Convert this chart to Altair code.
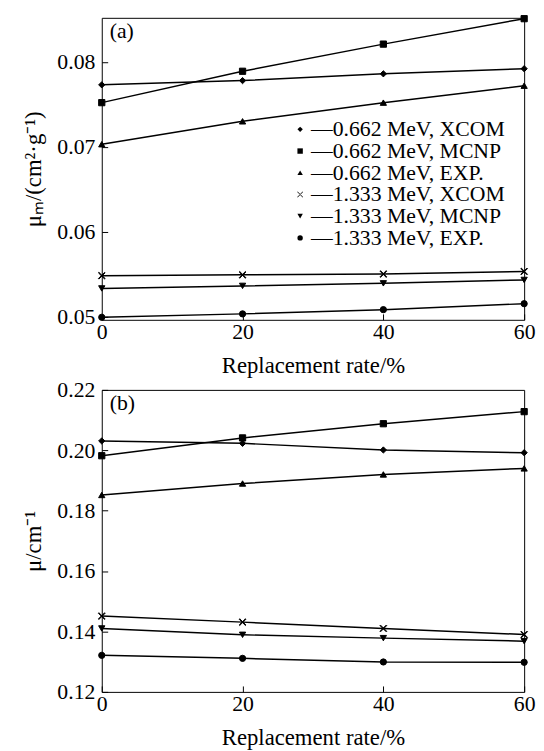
import altair as alt
import pandas as pd

rates = [0, 20, 40, 60]
series = [
    "0.662 MeV, XCOM",
    "0.662 MeV, MCNP",
    "0.662 MeV, EXP.",
    "1.333 MeV, XCOM",
    "1.333 MeV, MCNP",
    "1.333 MeV, EXP.",
]
# thin filled "x" outline so that it is drawn by fill as well as by stroke
X_PATH = ("M-1.08,-0.92L0.92,1.08L1.08,0.92L-0.92,-1.08Z"
          "M-1.08,0.92L0.92,-1.08L1.08,-0.92L-0.92,1.08Z")
shape_range = [
    "diamond",
    "square",
    "triangle-up",
    X_PATH,
    "triangle-down",
    "circle",
]

# panel (a): mass attenuation coefficient
a_xcom_662 = [0.0773, 0.0778, 0.0786, 0.0792]
a_mcnp_662 = [0.0752, 0.0789, 0.0821, 0.0851]
a_exp_662 = [0.0703, 0.0730, 0.0752, 0.0772]
a_xcom_1333 = [0.0548, 0.0549, 0.0550, 0.0553]
a_mcnp_1333 = [0.0533, 0.0536, 0.0539, 0.0543]
a_exp_1333 = [0.0499, 0.0503, 0.0508, 0.0515]

# panel (b): linear attenuation coefficient
b_xcom_662 = [0.2031, 0.2023, 0.2001, 0.1992]
b_mcnp_662 = [0.1982, 0.2041, 0.2088, 0.2128]
b_exp_662 = [0.1852, 0.1890, 0.1920, 0.1940]
b_xcom_1333 = [0.1451, 0.1431, 0.1410, 0.1390]
b_mcnp_1333 = [0.1410, 0.1389, 0.1378, 0.1368]
b_exp_1333 = [0.1321, 0.1311, 0.1299, 0.1298]

a_ticks = [0.05, 0.06, 0.07, 0.08]
b_ticks = [0.12, 0.14, 0.16, 0.18, 0.20, 0.22]
x_ticks = [0, 20, 40, 60]
tags = ["(a)", "(b)"]

FONT = "Liberation Serif"


def long_df(cols):
    rows = []
    for s, vals in zip(series, cols):
        for r, v in zip(rates, vals):
            rows.append({"rate": r, "value": v, "series": s})
    return pd.DataFrame(rows)


df_a = long_df([a_xcom_662, a_mcnp_662, a_exp_662, a_xcom_1333, a_mcnp_1333, a_exp_1333])
df_b = long_df([b_xcom_662, b_mcnp_662, b_exp_662, b_xcom_1333, b_mcnp_1333, b_exp_1333])


def panel(df, ytitle, ydomain, yticks, tag, legend_y):
    x = alt.X(
        "rate:Q",
        scale=alt.Scale(domain=[0, 60], nice=False, zero=False),
        axis=alt.Axis(values=x_ticks, title="Replacement rate/%", labelPadding=2,
                      titlePadding=12, labelFlush=False),
    )
    y = alt.Y(
        "value:Q",
        scale=alt.Scale(domain=ydomain, nice=False, zero=False),
        axis=alt.Axis(values=yticks, format=".2f", title=ytitle, labelPadding=7,
                      titlePadding=12, labelFlush=False),
    )
    lines = alt.Chart(df).mark_line(color="black", strokeWidth=1.5).encode(
        x=x, y=y, detail="series:N"
    )
    pts = alt.Chart(df).mark_point(
        filled=False, fill="black", stroke="black", strokeWidth=1, size=40,
        opacity=1, fillOpacity=1, strokeOpacity=1,
    ).encode(
        x=x,
        y=y,
        shape=alt.Shape(
            "series:N",
            scale=alt.Scale(domain=series, range=shape_range),
            legend=alt.Legend(
                orient="none",
                legendX=190,
                legendY=legend_y,
                title=None,
                labelExpr="'\u2014' + datum.label",
                labelFont=FONT,
                labelFontSize=22,
                labelColor="black",
                labelLimit=400,
                labelOffset=0,
                symbolSize=30,
                symbolFillColor="black",
                symbolStrokeColor="black",
                symbolStrokeWidth=1,
                symbolOpacity=1,
                rowPadding=0,
                padding=0,
            ),
        ),
    )
    tag_txt = alt.Chart(pd.DataFrame({"tag": [tag]})).mark_text(
        align="left", baseline="alphabetic", font=FONT, fontSize=22, color="black"
    ).encode(text="tag:N", x=alt.value(8), y=alt.value(20))
    return alt.layer(lines, pts, tag_txt).properties(width=428, height=306)


pa = panel(df_a, "\u03bc\u2098/(cm\u00b2\u00b7g\u207b\u00b9)", [0.0496, 0.0852], a_ticks, tags[0], 102)
pb = panel(df_b, "\u03bc/cm\u207b\u00b9", [0.12, 0.22], b_ticks, tags[1], 100)

chart = (
    alt.vconcat(pa, pb, spacing=0)
    .properties(padding={"left": 14, "top": 0, "right": 0, "bottom": 0})
    .configure_view(stroke="black", strokeWidth=1)
    .configure_axis(
        labelFont=FONT,
        titleFont=FONT,
        labelFontSize=22,
        titleFontSize=23,
        titleFontWeight="normal",
        labelColor="black",
        titleColor="black",
        tickColor="black",
        domain=False,
        grid=False,
        offset=-6,
        tickSize=6,
    )
)

chart.save("out.html", embed_options={"renderer": "svg", "actions": False})
